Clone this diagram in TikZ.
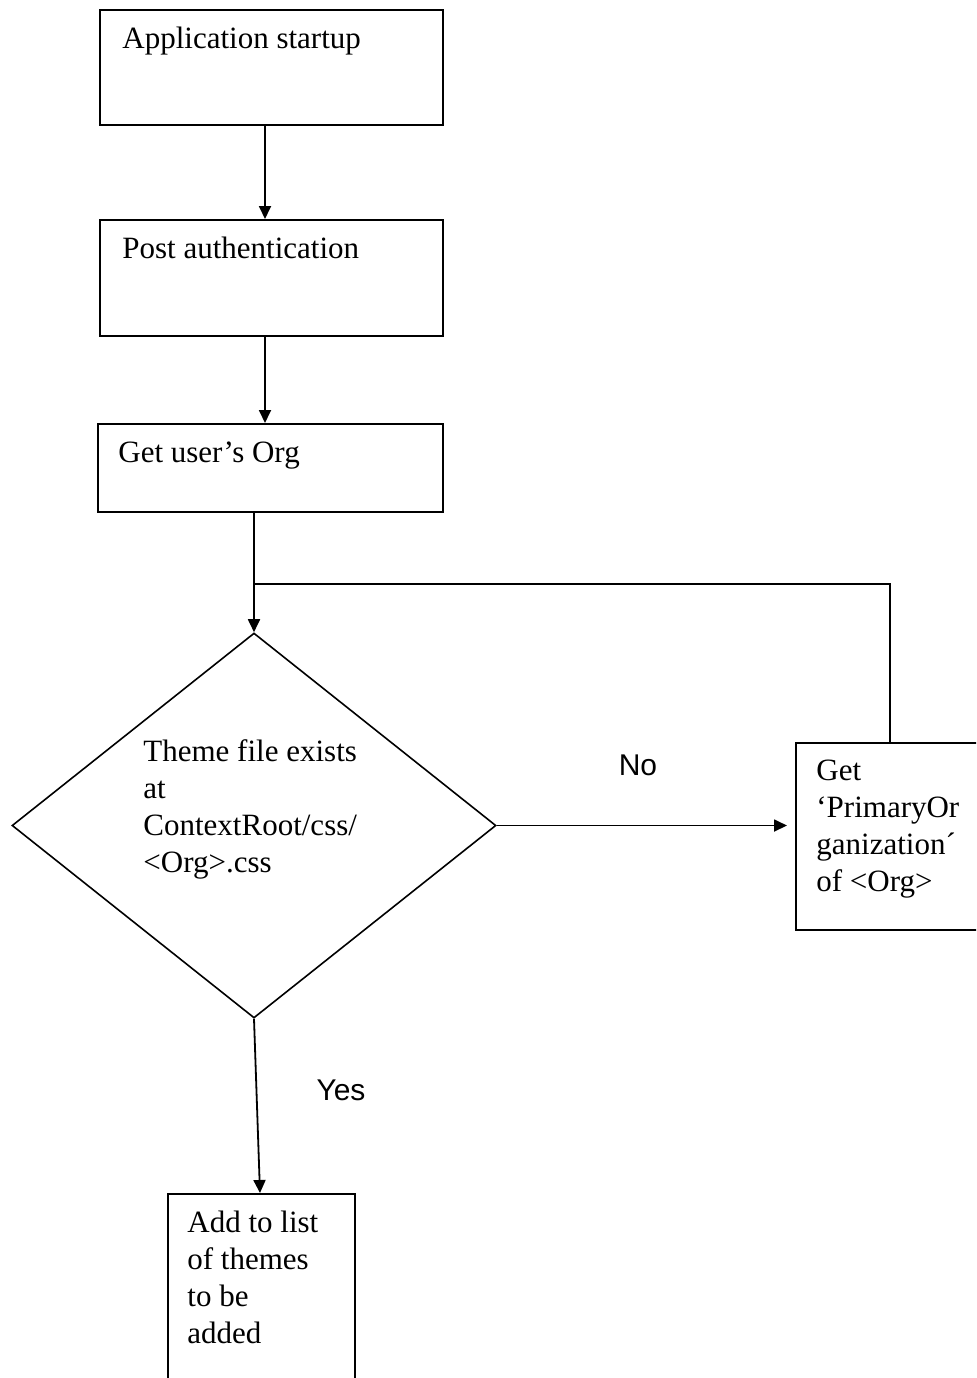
\documentclass[tikz,border=0pt]{standalone}
\usepackage{fontspec}
\setmainfont{Liberation Serif}
\newfontfamily\labelsans{Liberation Sans}
\usetikzlibrary{shapes.geometric,arrows.meta,calc}
\tikzset{
  boxnode/.style={draw, line width=1pt, rectangle, inner sep=0pt},
  decision/.style={draw, line width=0.8pt, diamond, inner sep=0pt},
  txt/.style={inner sep=0pt, anchor=base west, align=left, font=\fontsize{15.5}{18.5}\selectfont},
  lbl/.style={inner sep=0pt, font=\labelsans\fontsize{15}{18}\selectfont},
  arr/.style={line width=0.9pt, -{Triangle[length=6.5pt,width=6pt]}},
  con/.style={line width=0.9pt}
}
\begin{document}
\begin{tikzpicture}[x=0.5pt,y=-0.5pt]
\useasboundingbox (0,0) rectangle (976,1378);
\fill[white] (0,0) rectangle (976,1378);
\begin{scope}
\clip (0,0) rectangle (976,1378);
\node[boxnode, minimum width=171.5pt, minimum height=57.5pt] (b1) at (271.5,67.5) {};
\node[boxnode, minimum width=171.5pt, minimum height=58pt] (b2) at (271.5,278) {};
\node[boxnode, minimum width=172.5pt, minimum height=44pt] (b3) at (270.5,468) {};
\node[decision, minimum width=242pt, minimum height=192.5pt] (d) at (254,825.5) {};
\node[boxnode, minimum width=102pt, minimum height=93.5pt] (b4) at (898,836.5) {};
\node[boxnode, minimum width=93.5pt, minimum height=103pt] (b5) at (261.5,1297) {};

\node[txt] (t1) at (122,48) {Application startup};
\node[txt] (t2) at (122,258) {Post authentication};
\node[txt] (t3) at (118,462) {Get user’s Org};
\node[txt] (td) at (143,872) {Theme file exists\\at\\ContextRoot/css/\\<Org>.css};
\node[txt] (t4) at (816,891) {Get\\‘PrimaryOr\\ganization´\\of <Org>};
\node[txt] (t5) at (187,1343) {Add to list\\of themes\\to be\\added};

\node[lbl] (no) at (638,765) {No};
\node[lbl] (yes) at (341,1090) {Yes};

\coordinate (j) at (254,584);
\draw[arr] ($(b1.south)+(-6.5,0)$) -- ($(b2.north)+(-6.5,0)$);
\draw[arr] ($(b2.south)+(-6.5,0)$) -- ($(b3.north)+(-5.5,0)$);
\draw[arr] (b3.south -| d.north) -- (d.north);
\draw[con] ($(b4.north)+(-8,0)$) |- (j);
\draw[arr, shorten >=4pt] (d.east) -- (d.east -| b4.west);
\draw[arr] (d.south) -- ($(b5.north)+(-1.5,0)$);
\end{scope}
\end{tikzpicture}
\end{document}
